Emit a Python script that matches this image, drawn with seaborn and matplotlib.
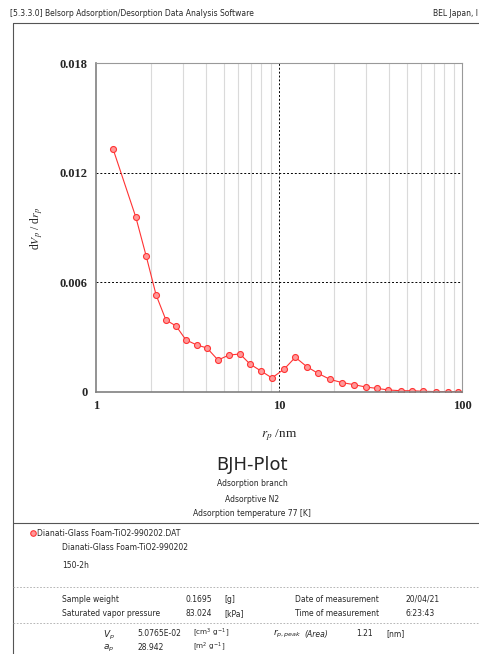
import numpy as np
import pandas as pd
import matplotlib
matplotlib.use("Agg")
import matplotlib.pyplot as plt
import seaborn as sns
from matplotlib.lines import Line2D
from matplotlib.ticker import FixedLocator, NullFormatter

# BJH data (pore radius in nm, dVp/drp)
rp = [1.24, 1.65, 1.88, 2.13, 2.41, 2.74, 3.10, 3.56, 4.04, 4.64, 5.33, 6.12,
      6.94, 7.97, 9.15, 10.69, 12.28, 14.17, 16.34, 19.0, 22.2, 25.8, 29.8,
      34.2, 39.6, 46.2, 53.3, 61.4, 72.1, 83.8, 95.5]
dvp = [0.01329, 0.00957, 0.00744, 0.00531, 0.00394, 0.00361, 0.00285, 0.00257,
       0.00241, 0.00175, 0.00202, 0.00208, 0.00153, 0.00115, 0.00077, 0.00126,
       0.00190, 0.00139, 0.00102, 0.00069, 0.00051, 0.00040, 0.00027, 0.00020,
       0.00011, 0.00007, 0.00007, 0.00004, 0.00002, 0.00001, 0.00001]

y_ticks = [0, 0.006, 0.012, 0.018]
y_labels = ["0", "0.006", "0.012", "0.018"]
x_ticks = [1, 10, 100]
x_labels = ["1", "10", "100"]

df = pd.DataFrame({"rp": rp, "dvp": dvp})

sns.set_style("white")
plt.rcParams["font.family"] = ["DejaVu Sans"]

fig = plt.figure(figsize=(4.79, 6.54), dpi=100)
ax = fig.add_axes([96 / 479, 1 - 392 / 654, 366 / 479, 329 / 654])

# light minor grid lines, dotted major lines
minor = [m * d for d in (1, 10) for m in range(2, 10)]
for v in minor:
    ax.axvline(v, color="#dadada", lw=0.8, zorder=0)
ax.axvline(10, color="black", lw=0.7, ls=(0, (2, 2)), zorder=0)
for v in (0.006, 0.012):
    ax.axhline(v, color="black", lw=0.7, ls=(0, (2, 2)), zorder=0)

sns.lineplot(data=df, x="rp", y="dvp", ax=ax, color="#ff3333", lw=0.8,
             marker="o", markersize=4.3, markerfacecolor="#ff9999",
             markeredgecolor="#ff3333", markeredgewidth=0.8)

ax.set_xscale("log")
ax.set_xlim(1, 100)
ax.set_ylim(0, 0.018)
ax.xaxis.set_major_locator(FixedLocator(x_ticks))
ax.xaxis.set_minor_formatter(NullFormatter())
ax.set_xticks(x_ticks)
ax.set_xticklabels(x_labels, family="Liberation Serif", fontsize=9, fontweight="bold")
ax.set_yticks(y_ticks)
ax.set_yticklabels(y_labels, family="Liberation Serif", fontsize=9, fontweight="bold")
ax.tick_params(axis="both", which="both", length=0, pad=6)
for s in ax.spines.values():
    s.set_color("#999999")
    s.set_linewidth(0.8)
ax.spines["left"].set_color("#808080")
ax.spines["bottom"].set_color("#808080")
ax.spines["left"].set_linewidth(1.2)
ax.spines["bottom"].set_linewidth(1.2)
ax.set(xlabel=None, ylabel=None)

fig.text(37 / 479, 1 - 228 / 654, r"d$V_p$ / d$r_p$", family="Liberation Serif",
         math_fontfamily="stix", fontsize=8.5, rotation=90, ha="center", va="center")
fig.text(279 / 479, 1 - 435 / 654, r"$r_p$ /nm", family="Liberation Serif",
         math_fontfamily="stix", fontsize=9.5, ha="center", va="center")

# page frame
def hline(y, x0=13, x1=479, **kw):
    fig.add_artist(Line2D([x0 / 479, x1 / 479], [1 - y / 654, 1 - y / 654], **kw))

fig.add_artist(Line2D([13 / 479, 13 / 479], [0, 1 - 23 / 654], color="#555555", lw=0.8))
hline(23, color="#555555", lw=0.8)
hline(523, color="#555555", lw=0.8)
hline(587, color="#aaaaaa", lw=0.6, ls=(0, (2, 2)))
hline(623, color="#aaaaaa", lw=0.6, ls=(0, (2, 2)))

small = dict(fontsize=5.5, va="center", family="DejaVu Sans")

def t(x, y, s, **kw):
    d = dict(small)
    d.update(kw)
    fig.text(x / 479, 1 - y / 654, s, **d)

t(10, 13, "[5.3.3.0] Belsorp Adsorption/Desorption Data Analysis Software")
t(433, 13, "BEL Japan, I")

t(252, 465, "BJH-Plot", fontsize=13, ha="center")
t(252, 484, "Adsorption branch", ha="center")
t(252, 499, "Adsorptive N2", ha="center")
t(252, 514, "Adsorption temperature 77 [K]", ha="center")

fig.add_artist(Line2D([33 / 479], [1 - 533 / 654], marker="o", markersize=4,
                      markerfacecolor="#ff9999", markeredgecolor="#ff3333", markeredgewidth=0.8))
t(37, 533, "Dianati-Glass Foam-TiO2-990202.DAT")
t(62, 548, "Dianati-Glass Foam-TiO2-990202")
t(62, 565, "150-2h")

t(62, 599, "Sample weight")
t(185, 599, "0.1695")
t(224, 599, "[g]")
t(295, 599, "Date of measurement")
t(405, 599, "20/04/21")
t(62, 614, "Saturated vapor pressure")
t(185, 614, "83.024")
t(224, 614, "[kPa]")
t(295, 614, "Time of measurement")
t(405, 614, "6:23:43")

t(103, 635, r"$V_p$", fontsize=6.5)
t(137, 634, "5.0765E-02")
t(193, 633, r"[cm$^3$ g$^{-1}$]", fontsize=5.2)
t(273, 634, r"$r_{p,peak}$", fontsize=6.5)
t(304, 634, "(Area)", style="italic")
t(356, 634, "1.21")
t(386, 634, "[nm]")
t(103, 648, r"$a_p$", fontsize=6.5)
t(137, 648, "28.942")
t(193, 647, r"[m$^2$ g$^{-1}$]", fontsize=5.2)

fig.savefig("out.png", dpi=100)
